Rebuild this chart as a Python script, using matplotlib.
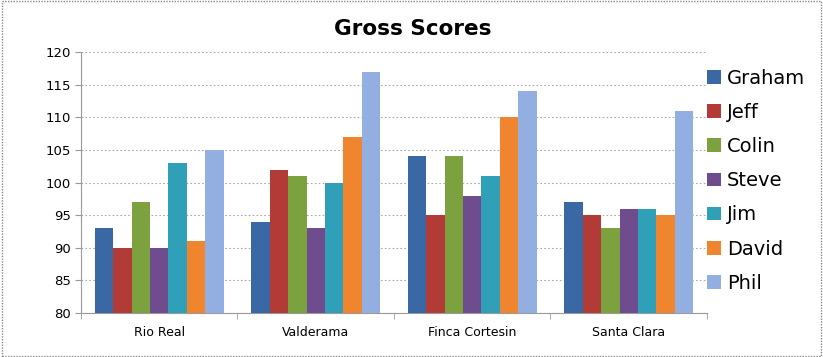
import numpy as np
import matplotlib
matplotlib.use("Agg")
import matplotlib.pyplot as plt
from matplotlib.patches import Rectangle

courses = ["Rio Real", "Valderama", "Finca Cortesin", "Santa Clara"]
players = ["Graham", "Jeff", "Colin", "Steve", "Jim", "David", "Phil"]
graham = [93, 94, 104, 97]
jeff = [90, 102, 95, 95]
colin = [97, 101, 104, 93]
steve = [90, 93, 98, 96]
jim = [103, 100, 101, 96]
david = [91, 107, 110, 95]
phil = [105, 117, 114, 111]
scores = [graham, jeff, colin, steve, jim, david, phil]
colors = ["#3A68A4", "#B23B38", "#7BA23E", "#6E4C8E", "#30A0B8", "#F08530", "#93AEE0"]

fig = plt.figure(figsize=(8.23, 3.57), dpi=100)
ax = fig.add_axes([0.0984, 0.1232, 0.7606, 0.7308])

n = len(players)
gap = 1.5
w = 1.0 / (n + gap)
x = np.arange(len(courses))
for i, (name, vals) in enumerate(zip(players, scores)):
    off = (i - (n - 1) / 2) * w
    ax.bar(x + off, np.array(vals) - 80, bottom=80, width=w, color=colors[i],
           label=name, zorder=3, linewidth=0)

ax.set_ylim(80, 120)
ax.set_xlim(-0.5, len(courses) - 0.5)
ax.set_yticks(range(80, 121, 5))
ax.set_xticks(x)
ax.set_xticklabels(courses)
ax.set_xticks(np.arange(-0.5, len(courses)), minor=True)
ax.tick_params(axis="x", which="major", length=0, labelsize=9, pad=9)
ax.tick_params(axis="x", which="minor", length=4, color="#999999")
ax.tick_params(axis="y", length=4, color="#999999", labelsize=9.5, pad=3)
ax.yaxis.grid(True, linestyle=(0, (1.5, 2)), color="#AAAAAA", linewidth=0.8, zorder=0)
for s in ["top", "right"]:
    ax.spines[s].set_visible(False)
for s in ["left", "bottom"]:
    ax.spines[s].set_color("#999999")

ax.set_title("Gross Scores", fontsize=15.5, fontweight="bold", pad=12, x=0.53)

leg = ax.legend(loc="upper left", bbox_to_anchor=(0.988, 0.966), frameon=False,
                fontsize=14, handlelength=0.7, handleheight=0.7,
                handletextpad=0.3, labelspacing=0.78, borderaxespad=0)

fig.patches.append(Rectangle((0.002, 0.003), 0.995, 0.993, transform=fig.transFigure,
                             fill=False, edgecolor="#888888", linestyle=(0, (1, 1)),
                             linewidth=1))

fig.savefig("out.png", dpi=100)
plt.close(fig)
